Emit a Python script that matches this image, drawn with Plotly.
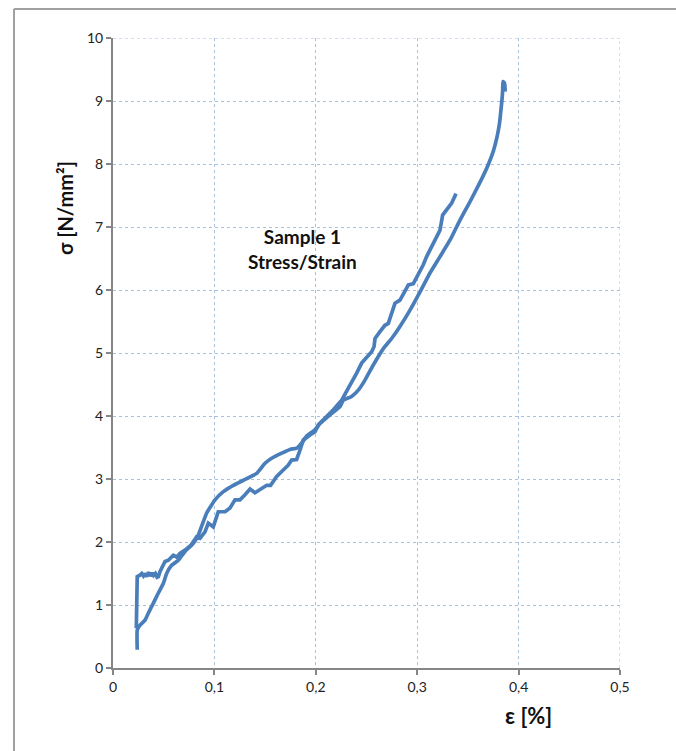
import plotly.graph_objects as go

# Curve 1 (smooth): starts at 0.3 N/mm², ends near 9.3 N/mm²
strain_a = [0.0239, 0.0239, 0.0266, 0.0316, 0.0348, 0.0398, 0.0447, 0.0496, 0.0529, 0.0578,
            0.0644, 0.0710, 0.0792, 0.0841, 0.0924, 0.1006, 0.1088, 0.1187, 0.1286, 0.1417,
            0.1499, 0.1565, 0.1664, 0.1746, 0.1811, 0.1860, 0.1910, 0.1991, 0.2041, 0.2140,
            0.2239, 0.2271, 0.2353, 0.2419, 0.2485, 0.2567, 0.2666, 0.2748, 0.2830, 0.2929,
            0.3028, 0.3126, 0.3225, 0.3323, 0.3422, 0.3520, 0.3610, 0.3690, 0.3750, 0.3790,
            0.3812, 0.3826, 0.3836, 0.3843, 0.3846, 0.3862, 0.3868]
stress_a = [0.29, 0.60, 0.68, 0.76, 0.87, 1.03, 1.19, 1.34, 1.50, 1.63,
            1.71, 1.85, 1.98, 2.11, 2.46, 2.67, 2.80, 2.90, 2.98, 3.09,
            3.25, 3.33, 3.41, 3.47, 3.49, 3.57, 3.68, 3.78, 3.88, 4.02,
            4.15, 4.25, 4.31, 4.41, 4.57, 4.81, 5.07, 5.23, 5.42, 5.68,
            5.97, 6.27, 6.53, 6.79, 7.11, 7.40, 7.68, 7.95, 8.20, 8.45,
            8.65, 8.86, 9.02, 9.17, 9.31, 9.28, 9.15]

# Curve 2 (jagged): starts at 1.45 N/mm² step, ends near 7.55 N/mm²
strain_b = [0.0230, 0.0236, 0.0239, 0.0262, 0.0283, 0.0300, 0.0316, 0.0332, 0.0350, 0.0368,
            0.0385, 0.0400, 0.0418, 0.0435, 0.0447, 0.0463, 0.0513, 0.0546, 0.0595, 0.0628,
            0.0660, 0.0710, 0.0770, 0.0824, 0.0858, 0.0907, 0.0940, 0.0989, 0.1038, 0.1105,
            0.1154, 0.1203, 0.1252, 0.1302, 0.1351, 0.1400, 0.1466, 0.1516, 0.1554, 0.1614,
            0.1664, 0.1729, 0.1762, 0.1811, 0.1844, 0.1877, 0.1943, 0.1992, 0.2025, 0.2100,
            0.2173, 0.2255, 0.2353, 0.2403, 0.2452, 0.2501, 0.2551, 0.2574, 0.2584, 0.2633,
            0.2682, 0.2715, 0.2748, 0.2781, 0.2830, 0.2880, 0.2913, 0.2962, 0.3011, 0.3060,
            0.3093, 0.3142, 0.3191, 0.3225, 0.3251, 0.3290, 0.3340, 0.3383]
stress_b = [0.63, 1.10, 1.45, 1.47, 1.50, 1.46, 1.50, 1.45, 1.52, 1.46,
            1.51, 1.47, 1.50, 1.44, 1.45, 1.53, 1.69, 1.71, 1.79, 1.76,
            1.82, 1.87, 1.95, 2.08, 2.06, 2.16, 2.30, 2.24, 2.48, 2.48,
            2.54, 2.67, 2.67, 2.75, 2.84, 2.78, 2.85, 2.90, 2.90, 3.04,
            3.12, 3.22, 3.30, 3.31, 3.46, 3.62, 3.70, 3.75, 3.86, 3.98,
            4.10, 4.25, 4.52, 4.68, 4.84, 4.94, 5.02, 5.10, 5.23, 5.34,
            5.44, 5.47, 5.63, 5.79, 5.84, 5.97, 6.08, 6.10, 6.24, 6.40,
            6.53, 6.69, 6.85, 6.95, 7.19, 7.27, 7.38, 7.53]

x_ticks = [0, 0.1, 0.2, 0.3, 0.4, 0.5]
y_ticks = [0, 1, 2, 3, 4, 5, 6, 7, 8, 9, 10]

line_color = "#4a7ebb"
grid_color = "#a9bfe0"
axis_color = "#868686"
font_family = "Lato, 'Open Sans', sans-serif"

W, H = 676, 751
L, R, T, B = 113, W - 620, 38, H - 668
PW, PH = W - L - R, H - T - B

fig = go.Figure()
fig.add_trace(go.Scatter(x=strain_a, y=stress_a, mode="lines",
                         line=dict(color=line_color, width=3.7, shape="spline", smoothing=0.4),
                         showlegend=False, hoverinfo="skip"))
fig.add_trace(go.Scatter(x=strain_b, y=stress_b, mode="lines",
                         line=dict(color=line_color, width=3.7),
                         showlegend=False, hoverinfo="skip"))

fig.update_layout(
    width=W, height=H,
    margin=dict(l=L, r=R, t=T, b=B),
    paper_bgcolor="white", plot_bgcolor="white",
    separators=",.",
    font=dict(family=font_family, size=14, color="#222222"),
    xaxis=dict(range=[0, 0.5], tickvals=x_ticks, showgrid=True, gridcolor=grid_color,
               griddash="dot", gridwidth=1, showline=True, linecolor=axis_color, linewidth=2,
               ticks="outside", ticklen=5, tickcolor=axis_color, tickwidth=1.5,
               zeroline=False, tickfont=dict(size=14)),
    yaxis=dict(range=[0, 10], tickvals=y_ticks, showgrid=True, gridcolor=grid_color,
               griddash="dot", gridwidth=1, showline=True, linecolor=axis_color, linewidth=2,
               ticks="outside", ticklen=5, tickcolor=axis_color, tickwidth=1.5,
               zeroline=False, tickfont=dict(size=14)),
)

# grid lines on the far edges (top / right)
fig.add_shape(type="line", xref="x", yref="y", x0=0, x1=0.5, y0=10, y1=10,
              line=dict(color=grid_color, width=1, dash="dot"))
fig.add_shape(type="line", xref="x", yref="y", x0=0.5, x1=0.5, y0=0, y1=10,
              line=dict(color=grid_color, width=1, dash="dot"))

# outer chart border: only the left and top edges are in view
border_left = (14 - L) / PW
border_top = (PH + T - 9) / PH
fig.add_shape(type="line", xref="paper", yref="paper",
              x0=border_left, x1=border_left, y0=-(B + 20) / PH, y1=border_top,
              line=dict(color="#a0a0a0", width=2), layer="below")
fig.add_shape(type="line", xref="paper", yref="paper",
              x0=border_left, x1=(W + 20 - L) / PW, y0=border_top, y1=border_top,
              line=dict(color="#a0a0a0", width=2), layer="below")

fig.add_annotation(x=0.1864, y=6.65, xref="x", yref="y", showarrow=False,
                   xanchor="center", yanchor="middle",
                   text="<b>Sample 1</b><br><b>Stress/Strain</b>",
                   font=dict(size=19, color="#111111", family=font_family), align="center")
fig.add_annotation(x=(528 - L) / PW, y=-(715 - 668) / PH, xref="paper", yref="paper",
                   showarrow=False, xanchor="center", yanchor="middle", text="<b>ε [%]</b>",
                   font=dict(size=22, color="#111111", family=font_family))
fig.add_annotation(x=(65 - L) / PW, y=(668 - 208) / PH, xref="paper", yref="paper",
                   showarrow=False, xanchor="center", yanchor="middle",
                   text="<b>σ [N/mm²]</b>", textangle=-90,
                   font=dict(size=20, color="#111111", family=font_family))

fig.write_html(
    "out.html",
    config={"displayModeBar": False},
    post_script="document.body.style.margin='0';document.documentElement.style.overflow='hidden';document.body.style.overflow='hidden';",
)
